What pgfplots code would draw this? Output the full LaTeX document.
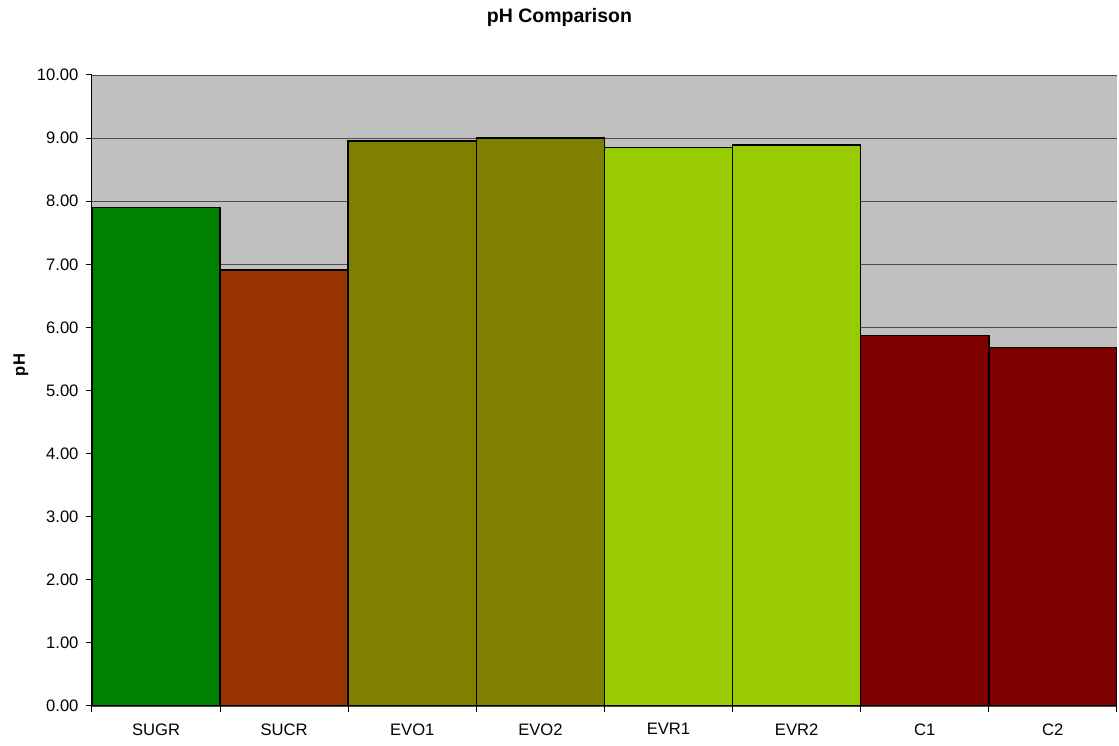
\documentclass[border=0pt]{standalone}
\usepackage{pgfplots}
\pgfplotsset{compat=1.18}
\usepackage{fontspec}
\setmainfont{Liberation Sans}

\definecolor{plotbg}{HTML}{C0C0C0}
\definecolor{cSUGR}{HTML}{008000}
\definecolor{cSUCR}{HTML}{993300}
\definecolor{cEVO}{HTML}{808000}
\definecolor{cEVR}{HTML}{99CC00}
\definecolor{cC}{HTML}{800000}

\begin{document}
\begin{tikzpicture}
\path[use as bounding box] (0,0) rectangle (1119pt,746pt);
\node[anchor=base, font=\fontsize{19.5}{23}\selectfont\bfseries] at (559.5pt,723pt) {pH Comparison};
\begin{axis}[
    at={(92pt,40pt)}, anchor=south west,
    scale only axis, width=1025pt, height=631pt,
    xmin=0, xmax=8, ymin=0, ymax=10,
    axis background/.style={fill=plotbg},
    axis x line*=bottom, axis y line*=left,
    axis line style={black, line width=1pt},
    ytick={0,1,...,10},
    yticklabel style={/pgf/number format/fixed, /pgf/number format/fixed zerofill, /pgf/number format/precision=2, xshift=-4pt},
    /pgf/number format/assume math mode=true,
    ymajorgrids, grid style={black!70, line width=0.9pt},
    xtick={0.5,1.5,...,7.5},
    xticklabels={SUGR,SUCR,EVO1,EVO2,EVR1,EVR2,C1,C2},
    major x tick style={draw=none},
    minor xtick={0,1,...,8},
    minor x tick style={black, line width=1pt},
    tick align=outside,
    major tick length=6pt, minor tick length=6pt,
    ytick style={black, line width=1pt},
    tick label style={font=\fontsize{16.6}{20}\selectfont},
    xticklabel style={yshift=-8pt},
    every axis plot/.append style={ybar, bar width=1, bar shift=0pt, draw=black, line width=1.5pt},
]
\addplot[fill=cSUGR] coordinates {(0.5,7.90)};
\addplot[fill=cSUCR] coordinates {(1.5,6.91)};
\addplot[fill=cEVO] coordinates {(2.5,8.95)};
\addplot[fill=cEVO] coordinates {(3.5,9.00)};
\addplot[fill=cEVR] coordinates {(4.5,8.85)};
\addplot[fill=cEVR] coordinates {(5.5,8.89)};
\addplot[fill=cC] coordinates {(6.5,5.87)};
\addplot[fill=cC] coordinates {(7.5,5.68)};
\draw[black, line width=1pt] (axis cs:0,0) -- (axis cs:8,0);
\draw[black, line width=1pt] (axis cs:0,0) -- (axis cs:0,10);
\end{axis}
\node[rotate=90, font=\fontsize{16.6}{20}\selectfont\bfseries] at (21pt,381pt) {pH};
\end{tikzpicture}
\end{document}
